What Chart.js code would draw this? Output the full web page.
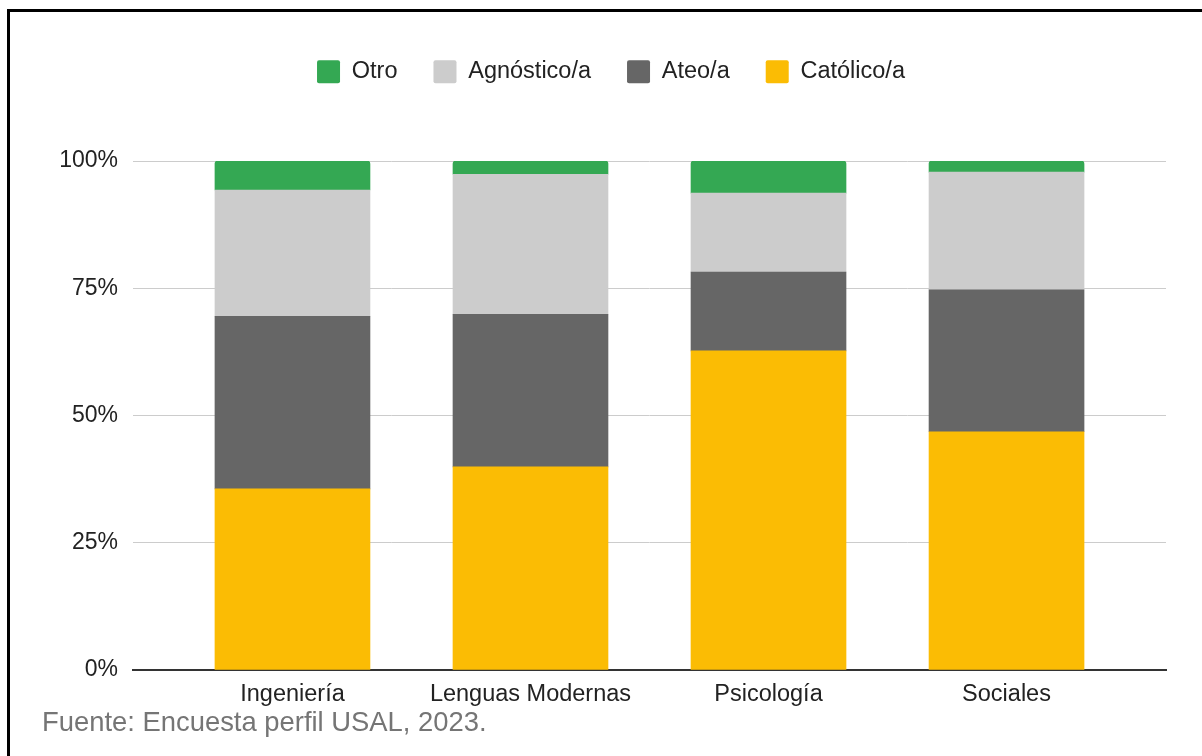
<!DOCTYPE html>
<html>
<head>
<meta charset="utf-8">
<script src="https://cdn.jsdelivr.net/npm/chart.js@4"></script>
<style>
    html, body { margin: 0; padding: 0; background: #fff; }
    body { width: 1202px; height: 756px; position: relative; overflow: hidden; }
    #frame {
        position: absolute; left: 7px; top: 9px; width: 1300px; height: 800px;
        border-left: 3px solid #000; border-top: 3px solid #000;
    }
    #chart { position: absolute; left: 0; top: 0; }
    #fuente {
        position: absolute; left: 42px; top: 705px;
        font-family: "Liberation Sans", Arial, sans-serif;
        font-size: 27.4px; color: #757575; line-height: 34px;
    }
</style>
</head>
<body>
<div id="frame"></div>
<canvas id="chart" width="1202" height="756"></canvas>
<div id="fuente">Fuente: Encuesta perfil USAL, 2023.</div>
<script>
const categorias = ["Ingeniería", "Lenguas Modernas", "Psicología", "Sociales"];
const catolico = [35.6, 39.9, 62.7, 46.8];
const ateo = [33.9, 30.0, 15.5, 27.9];
const agnostico = [24.8, 27.5, 15.5, 23.1];
const otro = [5.7, 2.6, 6.3, 2.2];
const yTicks = [0, 25, 50, 75, 100];

function toPoints(values) {
    return values.map((v, i) => ({ x: i, y: v }));
}

Chart.defaults.font.family = "'Liberation Sans', Arial, sans-serif";
Chart.defaults.color = "#222";

// legend takes a fixed height so the plot starts where the reference does
const legendHeight = {
    id: "legendHeight",
    afterInit(chart) {
        const fit = chart.legend.fit;
        chart.legend.fit = function () {
            fit.call(this);
            this.height = 137;
        };
    },
};

new Chart(document.getElementById("chart"), {
    type: "bar",
    data: {
        datasets: [
            { label: "Católico/a", data: toPoints(catolico), backgroundColor: "#fbbc04" },
            { label: "Ateo/a", data: toPoints(ateo), backgroundColor: "#666666" },
            { label: "Agnóstico/a", data: toPoints(agnostico), backgroundColor: "#cccccc" },
            {
                label: "Otro", data: toPoints(otro), backgroundColor: "#34a853",
                borderRadius: { topLeft: 3, topRight: 3 }, borderSkipped: "bottom",
            },
        ],
    },
    options: {
        responsive: false,
        animation: false,
        devicePixelRatio: 1,
        barThickness: 155,
        layout: { padding: { top: 24, left: 56, right: 36, bottom: 36 } },
        plugins: {
            legend: {
                reverse: true,
                labels: {
                    boxWidth: 23, boxHeight: 23, padding: 36,
                    useBorderRadius: true, borderRadius: 2,
                    font: { size: 23.5 }, color: "#222",
                },
            },
            tooltip: { enabled: false },
        },
        scales: {
            x: {
                type: "linear",
                stacked: true,
                offset: false,
                min: -0.67,
                max: 3.67,
                grid: { display: false, offset: false },
                border: { display: true, color: "#333", width: 2 },
                afterBuildTicks: (s) => { s.ticks = categorias.map((_, i) => ({ value: i })); },
                afterFit: (s) => { s.height = 50; },
                ticks: {
                    padding: 2,
                    autoSkip: false,
                    maxRotation: 0,
                    font: { size: 23.5 },
                    color: "#222",
                    callback: (v) => categorias[v] ?? "",
                },
            },
            y: {
                stacked: true,
                min: 0,
                max: 100,
                afterBuildTicks: (s) => { s.ticks = yTicks.map((v) => ({ value: v })); },
                afterFit: (s) => { s.width = 77; },
                border: { display: false },
                grid: {
                    drawTicks: false,
                    color: (ctx) => (ctx.tick && ctx.tick.value === 0 ? "rgba(0,0,0,0)" : "#cccccc"),
                    lineWidth: 1,
                },
                ticks: {
                    padding: 15,
                    font: { size: 23 },
                    color: "#222",
                    callback: (v) => v + "%",
                },
            },
        },
    },
    plugins: [legendHeight],
});
</script>
</body>
</html>
